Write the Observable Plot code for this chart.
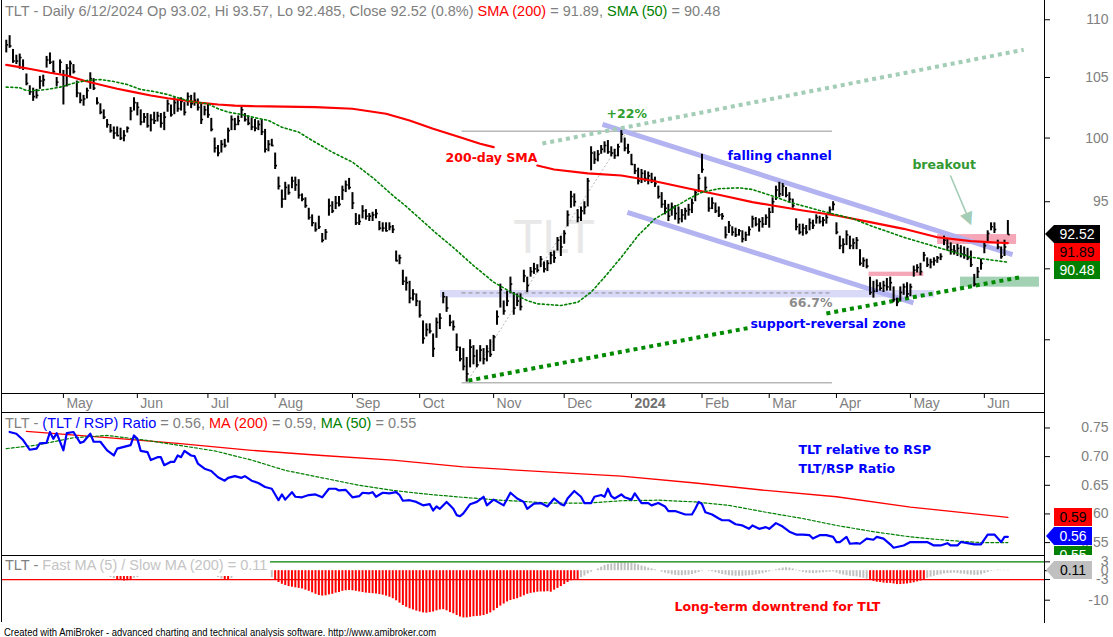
<!DOCTYPE html>
<html><head><meta charset="utf-8">
<script src="https://cdn.jsdelivr.net/npm/d3@7"></script>
<script src="https://cdn.jsdelivr.net/npm/@observablehq/plot@0.6"></script>
<style>
html,body{margin:0;padding:0;background:#fff;}
#root{position:relative;width:1113px;height:637px;overflow:hidden;background:#fff;font-family:"Liberation Sans",Arial,sans-serif;}
#root svg{position:absolute;left:0;}
.ln{position:absolute;background:#000;}
.title{position:absolute;left:5px;font-size:14.5px;line-height:1;white-space:nowrap;color:#808080;}
.box{position:absolute;font-size:14px;line-height:18px;height:18px;text-align:center;font-family:"Liberation Sans",Arial,sans-serif;}
.arr{position:absolute;width:9px;height:18px;clip-path:polygon(0 50%,100% 0,100% 100%);}
</style></head><body><div id="root"></div>
<script>
// ---------- DATA ----------
// daily TLT bars, index 0 = 5 Apr 2023 ... 298 = 12 Jun 2024
const H=[108.2,108.6,107.4,106.9,107.0,106.5,105.3,104.3,104.1,104.0,
105.1,105.2,106.8,107.1,106.4,105.0,106.5,105.6,106.1,106.4,
106.1,104.7,103.7,103.5,104.1,105.4,104.9,103.3,102.8,102.3,
101.5,101.1,100.9,100.9,100.8,100.6,100.9,102.5,103.3,102.9,
102.3,102.0,102.0,101.9,102.1,102.1,102.0,102.1,103.1,102.7,
103.3,103.1,103.3,102.9,103.7,103.5,103.7,103.2,102.9,102.6,
102.8,101.6,100.0,99.4,99.8,99.9,100.8,101.8,101.6,101.8,
102.5,102.0,101.8,101.6,101.5,101.4,101.5,100.7,99.8,99.9,
98.8,96.9,95.9,96.5,96.3,96.9,96.9,96.7,95.6,95.3,
94.5,94.0,93.4,93.9,92.6,92.9,95.2,95.0,95.4,95.4,
96.2,96.6,96.8,95.7,94.1,94.0,94.7,94.4,94.1,94.2,
94.4,93.5,93.4,93.4,93.4,93.2,91.3,91.0,89.9,89.4,
89.1,88.5,88.2,87.7,86.3,86.1,86.1,85.4,86.5,86.8,
88.3,88.0,86.7,86.3,85.4,84.5,84.4,83.8,85.0,84.6,
84.3,84.6,84.4,84.6,85.0,85.3,87.0,88.9,87.7,88.4,
89.4,88.3,88.2,88.2,89.9,89.4,90.1,90.4,90.3,90.9,
90.5,90.6,91.2,91.3,92.3,92.4,92.8,94.3,95.8,95.6,
94.4,94.6,95.0,96.8,99.3,98.9,99.0,99.4,99.7,99.8,
99.3,99.1,99.5,100.6,100.0,99.5,98.7,97.9,97.6,97.5,
97.4,97.3,97.2,96.9,96.2,95.7,95.1,94.8,94.9,94.7,
94.6,94.4,94.5,94.8,95.2,95.9,97.1,98.7,96.9,95.3,
95.3,94.9,94.6,94.1,93.1,93.5,93.1,93.0,92.9,92.8,
92.7,93.1,93.9,93.8,93.7,93.8,94.0,94.5,95.3,96.2,
96.5,96.4,96.1,95.7,95.2,93.7,93.3,93.3,93.2,93.7,
93.6,94.0,93.9,93.8,94.0,94.6,95.0,93.4,92.4,92.2,
92.8,92.4,92.2,92.3,91.4,90.8,90.7,89.4,89.1,89.2,
89.0,89.1,89.3,89.4,88.7,87.9,88.7,88.9,89.0,88.9,
90.2,90.3,90.4,91.2,90.8,90.7,90.8,90.9,91.1,92.4,
92.2,91.9,91.7,91.8,91.7,91.6,91.5,91.3,89.6,90.1,
90.7,91.9,92.8,93.4,93.4,92.1,91.6,92.1,93.57];
const L=[107.1,107.5,106.2,106.1,105.7,105.6,104.3,103.5,103.0,103.2,
104.0,104.2,105.8,106.1,105.3,104.2,105.3,102.7,104.2,105.0,
105.3,103.3,102.8,102.6,103.2,104.0,103.9,102.7,101.9,101.5,
100.8,100.4,99.9,100.1,99.8,99.7,100.4,101.4,102.2,101.8,
101.0,101.2,100.8,100.5,101.1,101.3,100.8,100.6,102.1,101.7,
101.9,102.1,102.2,101.8,102.6,102.4,102.6,102.2,101.1,101.8,
101.6,100.5,98.8,98.5,98.8,99.2,99.6,100.6,100.6,101.0,
101.6,101.3,101.0,100.6,100.5,100.6,100.2,98.8,98.9,99.3,
97.5,95.9,94.5,95.1,95.5,96.0,95.8,95.2,95.0,94.5,
93.6,93.1,92.7,92.9,91.9,92.1,93.9,94.1,94.4,94.6,
95.1,95.7,95.9,94.4,93.2,93.2,93.7,93.6,93.5,93.5,
93.7,92.8,92.7,92.7,92.8,92.6,90.5,90.3,88.8,88.4,
87.5,87.7,87.3,86.5,84.7,85.2,85.4,83.8,85.1,85.7,
87.5,86.9,85.9,85.6,84.2,83.5,82.9,82.15,83.1,83.3,
83.1,83.5,83.3,83.5,83.8,84.2,86.0,87.2,86.7,87.3,
88.2,86.7,87.3,87.0,89.0,88.3,89.4,89.6,89.7,90.1,
89.7,89.8,90.3,90.4,91.3,90.9,91.8,93.1,94.5,94.6,
93.4,93.5,94.0,94.6,97.4,97.9,98.1,98.7,98.8,98.7,
98.5,98.3,98.5,99.6,98.9,98.7,97.8,97.1,96.3,96.4,
96.5,96.3,96.4,96.1,95.2,94.5,94.0,93.5,93.9,93.6,
93.3,93.4,93.6,93.9,94.1,95.0,95.7,97.2,95.8,94.2,
94.4,94.1,93.8,93.6,92.2,92.6,92.4,92.3,92.4,91.9,
92.0,92.4,93.0,93.1,92.7,93.0,93.2,93.0,94.1,95.1,
95.3,95.4,95.3,94.9,94.5,92.8,92.5,92.4,92.5,92.8,
92.9,93.3,93.3,93.1,93.3,94.0,94.3,92.5,91.4,91.1,
91.7,91.4,91.4,91.4,90.2,90.1,90.0,88.1,87.9,88.3,
88.4,88.3,88.4,88.4,87.6,87.3,87.7,88.1,87.9,88.0,
89.4,89.7,89.5,90.5,90.1,90.0,90.2,90.4,90.6,91.7,
91.3,91.0,91.0,90.9,90.8,90.7,90.6,90.1,88.7,89.3,
89.9,91.1,91.9,92.8,92.6,91.4,90.7,90.9,92.485];
const C=[107.8,107.7,106.4,106.4,106.7,105.8,104.5,103.8,103.4,103.5,
104.7,104.8,106.5,106.3,105.5,104.6,106.3,104.3,105.8,106.2,
105.5,103.7,103.1,103.2,103.9,104.9,104.1,102.9,102.1,101.7,
101.1,100.6,100.4,100.2,100.0,100.2,100.8,102.2,102.9,102.5,
101.3,101.7,101.0,101.5,101.4,101.8,101.2,101.7,102.8,101.9,
102.9,102.4,103.0,102.1,103.4,102.8,103.1,102.5,101.5,102.3,
101.9,100.7,99.2,98.8,99.5,99.4,100.6,101.5,101.1,101.4,
102.3,101.5,101.2,100.9,100.8,101.1,100.5,99.1,99.5,99.4,
97.8,96.2,95.2,96.1,95.7,96.6,96.3,95.5,95.2,94.7,
93.8,93.4,92.9,93.1,92.1,92.7,94.7,94.3,94.9,94.8,
95.9,96.3,96.1,94.9,93.4,93.5,94.3,93.9,93.9,94.0,
94.1,93.0,93.0,92.8,93.1,92.9,90.6,90.8,89.1,89.0,
87.9,88.2,87.7,86.7,85.1,85.7,85.6,84.4,86.2,86.5,
88.0,87.2,86.2,85.9,84.5,83.7,83.2,82.7,84.5,83.9,
83.3,84.3,83.7,84.2,84.0,85.2,86.6,88.5,87.0,87.7,
88.9,87.2,87.7,87.3,89.5,88.8,89.8,90.0,89.9,90.7,
90.0,90.4,91.0,90.8,92.1,91.6,92.6,94.0,95.4,95.0,
93.8,94.3,94.6,96.6,98.8,98.3,98.7,99.1,99.4,98.9,
98.8,98.6,99.3,100.3,99.2,98.9,97.9,97.4,96.6,97.2,
96.8,97.0,96.7,96.4,95.4,94.8,94.5,93.9,94.6,94.1,
93.7,94.0,94.3,94.4,94.9,95.7,96.8,97.5,96.1,94.5,
94.9,94.3,94.0,93.9,92.5,93.2,92.7,92.5,92.8,92.2,
92.5,92.9,93.7,93.3,93.5,93.3,93.8,94.2,95.0,95.9,
95.6,96.2,95.5,95.2,94.7,93.1,92.7,93.0,92.7,93.4,
93.2,93.8,93.5,93.6,93.8,94.4,94.8,92.7,91.7,91.8,
92.5,91.7,91.9,92.1,90.4,90.6,90.2,88.3,88.4,88.8,
88.6,88.8,88.7,89.0,87.8,87.6,88.3,88.7,88.2,88.7,
89.9,90.1,89.8,91.0,90.3,90.5,90.6,90.8,90.9,92.1,
91.6,91.4,91.3,91.5,91.1,91.0,90.8,90.3,88.9,89.8,
90.4,91.7,92.6,93.1,92.9,91.6,90.9,91.6,92.52];

// moving averages on the price panel: [bar index, value] (null = hidden under label)
const sma200Pts=[[0,106.08],[4,105.88],[8,105.68],[13,105.40],[18,105.17],[23,104.75],[28,104.39],[33,104.05],[38,103.77],[43,103.49],[48,103.26],[53,103.07],[58,102.88],[63,102.74],[68,102.64],[73,102.60],[78,102.58],[92,102.52],[103,102.39],[113,101.98],[120,101.43],[127,100.75],[135,100.07],[141,99.54],[145,99.27],[150,null],[158,97.81],[163,97.50],[173,97.19],[183,97.03],[193,96.58],[203,96.02],[213,95.48],[222,94.97],[228,94.71],[237,94.33],[247,93.95],[257,93.45],[267,92.95],[277,92.32],[287,92.03],[296,91.91],[298,91.89]];
const sma50Pts=[[0,104.19],[4,104.14],[6,103.91],[9,103.91],[12,103.99],[16,104.19],[20,104.52],[24,104.75],[28,104.83],[32,104.66],[36,104.41],[40,103.99],[44,103.82],[48,103.57],[52,103.22],[56,102.93],[60,102.80],[63,102.39],[66,102.11],[70,101.92],[74,101.65],[78,101.43],[82,100.88],[87,100.48],[91,99.81],[97,98.87],[103,98.08],[109,96.87],[115,95.48],[119,94.64],[123,93.73],[128,92.60],[133,91.56],[139,90.24],[145,89.04],[151,88.21],[155,87.73],[158,87.50],[165,87.38],[170,87.61],[174,88.32],[178,89.40],[183,90.85],[188,92.45],[193,93.70],[198,94.46],[203,95.22],[207,95.73],[212,96.00],[218,96.07],[222,95.94],[229,95.35],[233,94.97],[242,94.33],[252,93.70],[257,93.20],[267,92.32],[277,91.58],[287,90.85],[298,90.48]];

// TLT/RSP ratio panel
const ratioPts=[[1,.743],[3,.740],[5,.729],[7,.712],[9,.714],[10,.723],[12,.724],[13,.743],[14,.731],[15,.741],[17,.711],[18,.741],[20,.743],[22,.724],[23,.726],[25,.740],[26,.726],[28,.726],[30,.711],[32,.702],[33,.714],[35,.717],[37,.720],[38,.737],[39,.731],[40,.710],[42,.708],[43,.694],[45,.699],[46,.699],[47,.685],[49,.691],[50,.691],[51,.702],[52,.699],[53,.710],[55,.702],[56,.701],[57,.688],[59,.679],[61,.675],[63,.664],[65,.658],[66,.663],[68,.666],[70,.663],[71,.666],[73,.658],[75,.654],[77,.647],[79,.644],[80,.634],[81,.624],[82,.634],[83,.625],[85,.638],[86,.630],[88,.629],[90,.633],[92,.634],[94,.629],[96,.644],[98,.644],[99,.641],[101,.642],[103,.629],[105,.631],[106,.637],[108,.636],[109,.638],[110,.630],[112,.637],[114,.636],[116,.638],[117,.633],[118,.623],[120,.624],[122,.621],[124,.615],[126,.617],[127,.606],[128,.613],[129,.609],[131,.621],[132,.615],[133,.609],[134,.598],[135,.596],[136,.601],[138,.617],[140,.621],[142,.630],[143,.615],[145,.625],[148,.615],[150,.637],[152,.627],[154,.621],[155,.609],[157,.618],[159,.619],[161,.613],[163,.627],[165,.617],[166,.615],[167,.627],[169,.640],[171,.630],[172,.619],[174,.619],[175,.630],[177,.633],[178,.630],[179,.644],[180,.631],[181,.627],[183,.634],[184,.629],[186,.625],[187,.636],[189,.619],[191,.619],[192,.615],[194,.619],[196,.613],[197,.605],[199,.605],[202,.599],[204,.599],[205,.609],[206,.621],[207,.617],[208,.603],[210,.599],[212,.592],[213,.589],[215,.589],[217,.582],[219,.580],[221,.574],[222,.580],[224,.574],[226,.577],[227,.574],[229,.584],[231,.578],[233,.569],[235,.564],[237,.564],[239,.563],[240,.557],[242,.563],[244,.563],[246,.560],[247,.551],[248,.551],[250,.560],[251,.548],[253,.549],[254,.548],[256,.557],[258,.555],[259,.560],[261,.557],[263,.547],[264,.541],[267,.545],[269,.551],[271,.551],[274,.551],[276,.545],[278,.545],[280,.549],[281,.545],[283,.545],[284,.551],[286,.549],[288,.547],[290,.547],[292,.564],[294,.564],[296,.551],[297,.560],[298,.560]];
const ratioMa200Pts=[[6,.744],[30,.733],[51,.723],[73,.711],[94,.702],[115,.694],[136,.682],[162,.673],[183,.666],[205,.654],[226,.641],[247,.630],[269,.612],[298,.594]];
const ratioMa50Pts=[[0,.714],[9,.720],[20,.733],[30,.737],[41,.729],[51,.720],[62,.710],[73,.694],[83,.676],[94,.663],[105,.650],[115,.641],[126,.634],[136,.629],[147,.624],[162,.619],[173,.619],[183,.623],[194,.624],[205,.621],[215,.615],[226,.603],[237,.592],[247,.580],[258,.569],[269,.560],[280,.554],[290,.550],[298,.550]];

// Fast MA(5) / Slow MA(200) oscillator, one value per bar
const osc=[1.2,1.5,1.3,1.0,0.8,0.4,0.0,-0.5,-0.9,-1.2,-1.3,-1.1,-0.8,-0.3,0.0,0.1,0.2,0.1,0.0,0.2,0.3,0.0,-0.4,-0.8,-0.9,-0.7,-0.6,-0.9,-1.3,-1.7,
-2.0,-2.3,-2.7,-3.1,-3.3,-3.5,-3.4,-3.1,-2.6,-2.3,
-2.0,-1.8,-1.7,-1.6,-1.6,-1.5,-1.5,-1.3,-1.1,-0.9,
-0.8,-0.6,-0.5,-0.5,-0.4,-0.4,-0.3,-0.4,-0.6,-0.7,
-0.9,-1.2,-1.8,-2.3,-2.8,-3.1,-3.2,-2.6,-2.0,-1.5,
-1.0,-0.8,-0.7,-0.7,-0.8,-0.9,-1.3,-1.6,-1.9,-2.4,
-3.3,-4.0,-4.6,-5.0,-5.4,-5.6,-5.8,-6.0,-6.2,-6.6,
-7.0,-7.5,-8.0,-8.4,-8.6,-8.5,-8.2,-8.0,-7.6,-7.4,
-7.0,-6.8,-6.7,-6.8,-7.0,-7.2,-7.4,-7.6,-7.7,-7.8,
-7.9,-8.1,-8.3,-8.6,-9.0,-9.5,-10.2,-11.0,-11.8,-12.4,
-12.9,-13.3,-13.7,-14.0,-14.3,-14.4,-14.2,-14.0,-13.6,-13.3,
-13.2,-13.6,-14.2,-14.6,-15.2,-15.7,-16.0,-16.0,-15.8,-15.6,
-15.5,-15.4,-15.2,-14.8,-14.3,-13.6,-12.8,-12.0,-11.3,-10.6,
-10.1,-9.8,-9.5,-9.0,-8.5,-8.0,-7.7,-7.5,-7.3,-7.2,
-7.2,-7.1,-7.3,-6.6,-6.0,-5.4,-4.7,-4.0,-3.4,-3.2,
-3.1,-2.4,-1.8,-1.1,-0.5,0.0,0.6,1.2,1.8,2.1,
2.3,2.4,2.5,2.6,2.6,2.5,2.5,2.3,2.0,1.6,
1.3,0.9,0.6,0.3,0.0,-0.5,-0.8,-1.1,-1.4,-1.6,
-1.7,-1.7,-1.6,-1.5,-1.3,-1.0,-0.6,-0.2,0.0,-0.2,
-0.4,-0.7,-1.0,-1.3,-1.5,-1.7,-1.8,-1.9,-1.9,-1.9,
-1.8,-1.7,-1.6,-1.4,-1.2,-1.0,-0.7,-0.4,-0.1,0.3,
0.6,0.9,1.0,0.9,0.6,0.2,-0.3,-0.6,-0.8,-0.9,
-1.0,-0.9,-0.8,-0.7,-0.6,-0.5,-0.4,-0.8,-1.2,-1.5,
-1.7,-1.9,-2.0,-2.1,-2.4,-2.6,-2.9,-3.2,-3.6,-3.9,
-4.0,-4.2,-4.3,-4.3,-4.5,-4.7,-4.7,-4.6,-4.5,-4.3,
-4.1,-3.8,-3.5,-3.2,-2.6,-2.2,-1.9,-1.6,-1.4,-1.1,
-1.0,-0.9,-0.8,-0.9,-1.1,-1.2,-1.4,-1.5,-1.6,-1.6,
-1.4,-1.0,-0.6,-0.2,0.1,0.2,0.1,0.1,0.11];

// month ticks (bar index of first trading day) and labels
const monthIdx=[17,39,60,80,103,123,145,166,186,207,227,247,269,291];
const monthLbl=["May","Jun","Jul","Aug","Sep","Oct","Nov","Dec","2024","Feb","Mar","Apr","May","Jun"];
const priceTicks=[85,90,95,100,105,110];
const ratioTicks=[0.55,0.60,0.65,0.70,0.75];
const oscTicks=[3,0,-3,-10];

// drawn annotations (bar index / price)
const fibLevels=[{v:100.56,dash:false},{v:88.27,dash:true},{v:82.10,dash:false}];
const fibSpan=[135.6,245.8];
const fibDiag=[{x1:136.9,y1:82.10,x2:184.8,y2:100.56}];
const channelLines=[{x1:177.4,y1:101.10,x2:299.4,y2:91.04},{x1:184.8,y1:94.18,x2:269.9,y2:87.57}];
const supportLines=[{x1:137.5,y1:82.25,x2:221.7,y2:85.85},{x1:244.0,y1:86.82,x2:301.8,y2:89.40}];
const upperLines=[{x1:159.5,y1:99.56,x2:302.7,y2:107.37}];
const zoneBand=[{x1:129.2,x2:276.2,y1:87.92,y2:88.44}];
const pinkBoxes=[{x1:277.1,x2:300.6,y1:91.78,y2:92.52},{x1:256.7,x2:273.0,y1:89.45,y2:89.76}];
const greenBoxes=[{x1:283.9,x2:307.4,y1:88.68,y2:89.40}];
const arrowShaft=[{x1:280.9,y1:97.03,x2:285.8,y2:94.02}];
const arrowHead=[{x:286.2,y:93.75}];
const priceNotes=[
 {x:130.7,y:98.37,t:"200-day SMA",c:"#ff0000"},
 {x:178.6,y:101.92,t:"+22%",c:"#2f9e2f"},
 {x:214.6,y:98.60,t:"falling channel",c:"#0000ff"},
 {x:269.6,y:97.89,t:"breakout",c:"#339933"},
 {x:221.4,y:86.12,t:"support-reversal zone",c:"#0000ff"}];
const fibNote=[{x:245.8,y:87.57,t:"66.7%"}];
const ratioNotes=[{x:235.7,y:0.711,t:"TLT relative to RSP"},{x:235.7,y:0.678,t:"TLT/RSP Ratio"}];
const oscNotes=[{x:198.8,y:-12.37,t:"Long-term downtrend for TLT"}];

// ---------- CHART ----------
const root=document.getElementById("root");
const XD=[-1.12,308.9];
const common={width:1113,marginLeft:2,marginRight:69,style:{background:"transparent",overflow:"visible",fontFamily:"Liberation Sans, Arial, sans-serif"}};
const bars=H.map((h,i)=>({i,h,l:L[i],c:C[i]}));
const px=d=>d[0], py=d=>d[1];
const noteFont="DejaVu Sans, sans-serif";
const gray="#808080";

const main=Plot.plot({...common,height:412,marginTop:0,marginBottom:19,
  x:{domain:XD},
  y:{type:"log",domain:[81.40,111.72]},
  marks:[
    Plot.text(["TLT"],{x:163,y:92.3,fontSize:48,fill:"#e8e8e8",fontFamily:"Liberation Sans Narrow, Liberation Sans, sans-serif",textAnchor:"middle",lineAnchor:"middle"}),
    Plot.rect(zoneBand,{x1:"x1",x2:"x2",y1:"y1",y2:"y2",fill:"#d9d9f8"}),
    Plot.rect(pinkBoxes,{x1:"x1",x2:"x2",y1:"y1",y2:"y2",fill:"#f5a6b7"}),
    Plot.rect(greenBoxes,{x1:"x1",x2:"x2",y1:"y1",y2:"y2",fill:"#a2d1b3"}),
    Plot.ruleY(fibLevels.filter(d=>!d.dash),{y:"v",x1:fibSpan[0],x2:fibSpan[1],stroke:"#b8b8b8",strokeWidth:1.5}),
    Plot.ruleY(fibLevels.filter(d=>d.dash),{y:"v",x1:fibSpan[0],x2:fibSpan[1],stroke:"#8c8c8c",strokeWidth:1,strokeDasharray:"4,3"}),
    Plot.link(fibDiag,{x1:"x1",y1:"y1",x2:"x2",y2:"y2",stroke:"#b8b8b8",strokeWidth:1,strokeDasharray:"2,2"}),
    Plot.link(channelLines,{x1:"x1",y1:"y1",x2:"x2",y2:"y2",stroke:"#b3b3f2",strokeWidth:5}),
    Plot.link(upperLines,{x1:"x1",y1:"y1",x2:"x2",y2:"y2",stroke:"#a3cdb6",strokeWidth:4,strokeDasharray:"4,4"}),
    Plot.link(supportLines,{x1:"x1",y1:"y1",x2:"x2",y2:"y2",stroke:"#008a00",strokeWidth:4,strokeDasharray:"4,4"}),
    Plot.ruleX(bars,{x:"i",y1:"l",y2:"h",stroke:"#000",strokeWidth:2}),
    Plot.link(bars,{x1:"i",x2:d=>d.i+0.55,y1:"c",y2:"c",stroke:"#000",strokeWidth:1.6}),
    Plot.line(sma200Pts,{x:px,y:py,stroke:"#ff0000",strokeWidth:2.2}),
    Plot.line(sma50Pts,{x:px,y:py,stroke:"#008000",strokeWidth:1.6,strokeDasharray:"2,2.5"}),
    Plot.link(arrowShaft,{x1:"x1",y1:"y1",x2:"x2",y2:"y2",stroke:"#a3cdb6",strokeWidth:1.6}),
    Plot.text(arrowHead,{x:"x",y:"y",text:()=>"▼",fill:"#a3cdb6",fontSize:17,rotate:-22.6,fontFamily:noteFont,lineAnchor:"middle"}),
    ...priceNotes.map(n=>Plot.text([n],{x:"x",y:"y",text:"t",fill:n.c,fontSize:12.5,fontWeight:"bold",fontFamily:noteFont,textAnchor:"start",lineAnchor:"middle"})),
    Plot.text(fibNote,{x:"x",y:"y",text:"t",fill:"#8c8c8c",fontSize:12.5,fontWeight:"bold",fontFamily:noteFont,textAnchor:"end",lineAnchor:"middle"}),
    Plot.axisX(monthIdx,{tickSize:5,tickFormat:()=>"",stroke:"#000",label:null}),
    Plot.text(monthIdx.map((d,k)=>({d,t:monthLbl[k]})).filter(o=>o.t!=="2024"),{x:"d",text:"t",frameAnchor:"bottom",dy:10,dx:3,textAnchor:"start",lineAnchor:"middle",fill:gray,fontSize:14}),
    Plot.text(monthIdx.map((d,k)=>({d,t:monthLbl[k]})).filter(o=>o.t==="2024"),{x:"d",text:"t",frameAnchor:"bottom",dy:10,dx:3,textAnchor:"start",lineAnchor:"middle",fill:"#707070",fontWeight:"bold",fontSize:14}),
    Plot.axisY(priceTicks,{anchor:"right",tickSize:5,tickFormat:()=>"",stroke:"#000",label:null}),
    Plot.axisY(priceTicks,{anchor:"right",tickSize:0,tickPadding:0,dx:64,textAnchor:"end",fill:gray,fontSize:14,tickFormat:d=>String(d),label:null})
  ]});
main.style.top="0px"; root.appendChild(main);

const ratio=Plot.plot({...common,height:143,marginTop:0,marginBottom:0,
  x:{domain:XD,axis:null},
  y:{domain:[0.5275,0.7770]},
  marks:[
    Plot.line(ratioMa200Pts,{x:px,y:py,stroke:"#ff0000",strokeWidth:1.3}),
    Plot.line(ratioMa50Pts,{x:px,y:py,stroke:"#008000",strokeWidth:1.2,strokeDasharray:"3,2"}),
    Plot.line(ratioPts,{x:px,y:py,stroke:"#0000ff",strokeWidth:2.2}),
    Plot.text(ratioNotes,{x:"x",y:"y",text:"t",fill:"#0000ff",fontSize:12.5,fontWeight:"bold",fontFamily:noteFont,textAnchor:"start",lineAnchor:"middle"}),
    Plot.axisY(ratioTicks,{anchor:"right",tickSize:5,tickFormat:()=>"",stroke:"#000",label:null}),
    Plot.axisY(ratioTicks,{anchor:"right",tickSize:0,tickPadding:0,dx:64,textAnchor:"end",fill:gray,fontSize:14,tickFormat:d3.format(".2f"),label:null})
  ]});
ratio.style.top="412px"; root.appendChild(ratio);

const oscRows=osc.map((v,i)=>({i,v}));
const hist=Plot.plot({...common,height:67,marginTop:0,marginBottom:0,
  x:{domain:XD,axis:null},
  y:{domain:[-17.56,5.15]},
  marks:[
    Plot.ruleX(oscRows.filter(d=>d.v>=-3),{x:"i",y1:0,y2:"v",stroke:"#c0c0c0",strokeWidth:2}),
    Plot.ruleX(oscRows.filter(d=>d.v<-3),{x:"i",y1:0,y2:"v",stroke:"#ff0000",strokeWidth:2}),
    Plot.ruleY([3],{stroke:"#008000",strokeWidth:1.2}),
    Plot.ruleY([-3],{stroke:"#ff0000",strokeWidth:1.2}),
    Plot.text(oscNotes,{x:"x",y:"y",text:"t",fill:"#ff0000",fontSize:12.5,fontWeight:"bold",fontFamily:noteFont,textAnchor:"start",lineAnchor:"middle"}),
    Plot.axisY(oscTicks,{anchor:"right",tickSize:5,tickFormat:()=>"",stroke:"#000",label:null}),
    Plot.axisY(oscTicks,{anchor:"right",tickSize:0,tickPadding:0,dx:64,textAnchor:"end",fill:gray,fontSize:14,tickFormat:d=>String(d),label:null})
  ]});
hist.style.top="555px"; root.appendChild(hist);

// ---------- frame, titles, value boxes ----------
function add(html){root.insertAdjacentHTML("beforeend",html);}
add('<div class="ln" style="left:1px;top:0;width:1px;height:622px"></div>');
add('<div class="ln" style="left:1044px;top:0;width:1px;height:623px"></div>');
[393,412,555].forEach(y=>add(`<div class="ln" style="left:1px;top:${y}px;width:1044px;height:1px"></div>`));
add('<div class="title" style="top:4px">TLT - Daily 6/12/2024 Op 93.02, Hi 93.57, Lo 92.485, Close 92.52 (0.8%) <span style="color:#f00">SMA (200)</span> = 91.89, <span style="color:#008000">SMA (50)</span> = 90.48</div>');
add('<div class="title" style="top:415.5px">TLT - <span style="color:#0000ff">(TLT / RSP) Ratio</span> = 0.56, <span style="color:#f00">MA (200)</span> = 0.59, <span style="color:#008000">MA (50)</span> = 0.55</div>');
add('<div class="title" style="top:557px;left:2px;padding:1px 3px 3px 3px;background:#fff">TLT - <span style="color:#c4c4c4">Fast MA (5) / Slow MA (200) = 0.11</span></div>');
// price boxes
add('<div class="arr" style="left:1045px;top:225px;background:#000"></div>');
add('<div class="box" style="left:1054px;top:225px;width:46px;background:#000;color:#fff">92.52</div>');
add('<div class="box" style="left:1054px;top:243px;width:46px;background:#ff0000;color:#000">91.89</div>');
add('<div class="box" style="left:1054px;top:261px;width:46px;background:#008000;color:#fff">90.48</div>');
// ratio boxes
add('<div class="box" style="left:1054px;top:508px;width:38px;background:#ff0000;color:#000">0.59</div>');
add('<div class="arr" style="left:1046px;top:527px;width:8px;background:#0000ff"></div>');
add('<div class="box" style="left:1054px;top:527px;width:38px;background:#0000ff;color:#fff">0.56</div>');
add('<div style="position:absolute;left:1054px;top:545.5px;width:38px;height:9.5px;overflow:hidden"><div class="box" style="left:0;top:0;width:38px;background:#008000;color:#fff">0.55</div></div>');
// oscillator box
add('<div class="arr" style="left:1046px;top:561px;width:8px;background:#c0c0c0"></div>');
add('<div class="box" style="left:1054px;top:561px;width:38px;background:#c0c0c0;color:#000">0.11</div>');
add('<div style="position:absolute;left:4px;top:626px;font-size:11px;line-height:12px;white-space:nowrap;color:#000;transform:scaleX(0.86);transform-origin:0 0;font-family:\'Liberation Sans\',Arial,sans-serif">Created with AmiBroker - advanced charting and technical analysis software. http://www.amibroker.com</div>');
</script></body></html>
